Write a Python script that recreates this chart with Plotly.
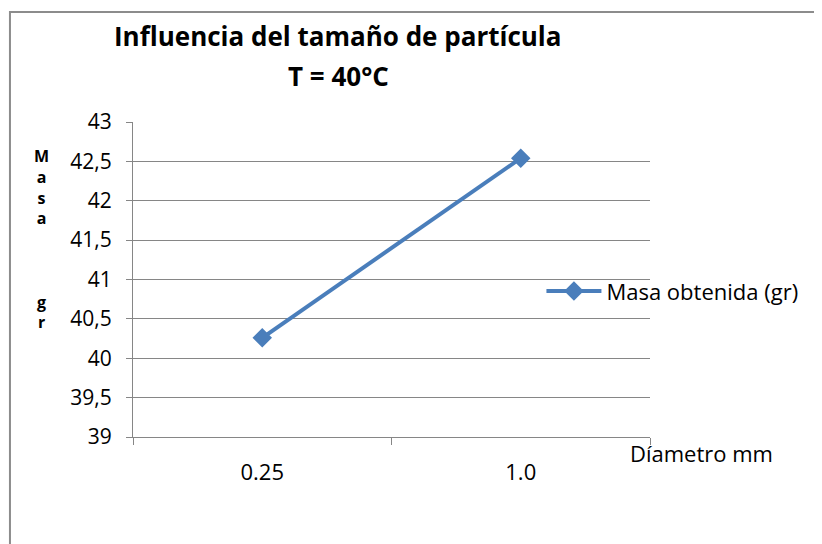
import plotly.graph_objects as go

FONT_FAMILY = "Open Sans, Noto Sans, sans-serif"
LINE_COLOR = "#4a7ebb"
GRID_COLOR = "#868686"

diametro = ["0.25", "1.0"]
masa = [40.26, 42.54]
y_ticks = [39, 39.5, 40, 40.5, 41, 41.5, 42, 42.5, 43]

fig = go.Figure()
fig.add_trace(go.Scatter(
    x=diametro, y=masa, mode="lines+markers", name="Masa obtenida (gr)",
    line=dict(color=LINE_COLOR, width=4),
    marker=dict(symbol="diamond", size=15, color=LINE_COLOR),
))

# la página añade 8 px de margen al cuerpo: se compensa en el tamaño
fig.update_layout(
    width=814, height=536,
    font=dict(family=FONT_FAMILY, size=21, color="#000000"),
    margin=dict(l=125, r=172, t=114, b=107, autoexpand=False),
    plot_bgcolor="white", paper_bgcolor="white",
    separators=",.",
    showlegend=True,
    legend=dict(x=0.79, y=0.463, xanchor="left", yanchor="middle",
                font=dict(size=22), bgcolor="rgba(0,0,0,0)", itemwidth=55),
)

fig.update_xaxes(
    type="category", range=[-0.5, 1.5], tickson="boundaries", ticks="outside",
    ticklen=7, tickcolor=GRID_COLOR, showline=True, linecolor=GRID_COLOR,
    linewidth=1, showgrid=False, tickfont=dict(size=22), ticklabelstandoff=16,
)
fig.update_yaxes(
    range=[39, 43], tickvals=y_ticks, ticks="outside", ticklen=6,
    tickcolor=GRID_COLOR, showline=True, linecolor=GRID_COLOR, linewidth=1,
    showgrid=True, gridcolor=GRID_COLOR, gridwidth=1, tickfont=dict(size=21),
    ticklabelstandoff=10, zeroline=False,
)

# borde del gráfico
fig.add_shape(type="rect", xref="paper", yref="paper",
              x0=-0.238, x1=1.6, y0=-0.6, y1=1.349,
              line=dict(color="#8c8c8c", width=2), fillcolor="rgba(0,0,0,0)")

# título
fig.add_annotation(xref="paper", yref="paper", x=0.397, y=1.273, yanchor="middle",
                   text="<b>Influencia del tamaño de partícula</b>", showarrow=False,
                   font=dict(size=26))
fig.add_annotation(xref="paper", yref="paper", x=0.397, y=1.146, yanchor="middle",
                   text="<b>T = 40°C</b>", showarrow=False, font=dict(size=26))

# título eje Y (letras apiladas)
fig.add_annotation(xref="paper", yref="paper", x=-0.195, y=0.629, yanchor="middle",
                   text="<b>M<br>a<br>s<br>a<br><br><br><br>g<br>r</b>", showarrow=False,
                   font=dict(size=16), align="center")

# título eje X
fig.add_annotation(xref="paper", yref="paper", x=0.958, y=-0.051, xanchor="left",
                   yanchor="middle", text="Díametro mm", showarrow=False,
                   font=dict(size=22))

fig.write_html("out.html")
